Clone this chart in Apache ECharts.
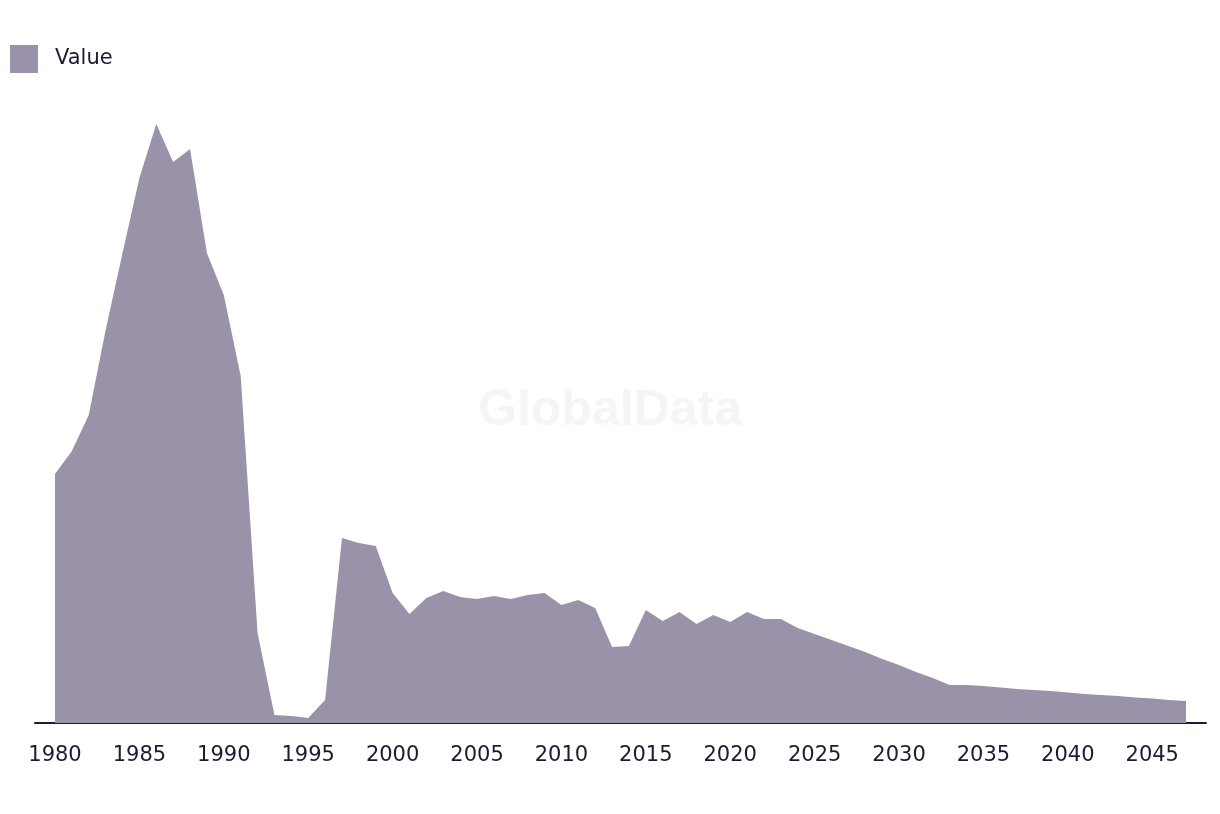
<!DOCTYPE html>
<html>
<head>
<meta charset="utf-8">
<script src="https://cdn.jsdelivr.net/npm/echarts@6/dist/echarts.min.js"></script>
<style>
html,body{margin:0;padding:0;background:#fff;}
#chart{width:1220px;height:814px;}
</style>
</head>
<body>
<div id="chart"></div>
<script>
const years = [];
for (let y = 1980; y <= 2047; y++) years.push(y);

const values = [
  249, 272, 308, 393, 470, 545, 599, 561, 574, 470,
  428, 347, 90, 8, 7, 5, 23, 185, 180, 177,
  130, 109, 125, 132, 126, 124, 127, 124, 128, 130,
  118, 123, 115, 76, 77, 113, 102, 111, 99, 108,
  101, 111, 104, 104, 95, 89, 83, 77, 71, 64,
  58, 51, 45, 38, 38, 37, 35.5, 34, 33, 32,
  30.5, 29, 28, 27, 25.5, 24.5, 23, 22
];

const tickLabels = [1980, 1985, 1990, 1995, 2000, 2005, 2010, 2015, 2020, 2025, 2030, 2035, 2040, 2045];
const seriesName = 'Value';

const pad = 20 / 16.88;
const chart = echarts.init(document.getElementById('chart'));
chart.setOption({
  animation: false,
  backgroundColor: '#ffffff',
  legend: {
    left: 5, top: 40,
    icon: 'rect', itemWidth: 28, itemHeight: 28,
    textStyle: { fontSize: 21, color: '#1c1b33', fontFamily: 'DejaVu Sans', padding: [0, 0, 0, 12] },
    data: [seriesName]
  },
  graphic: [{
    type: 'text', left: 'center', top: 386, z: -1,
    style: { text: 'GlobalData', font: 'bold 50px "Liberation Sans"', fill: '#f5f5f5' }
  }],
  grid: { left: 35, right: 14, top: 123, bottom: 91 },
  xAxis: {
    type: 'value',
    min: years[0] - pad,
    max: years[years.length - 1] + pad,
    splitLine: { show: false },
    axisTick: { show: false },
    axisLine: { show: true, lineStyle: { color: '#1c1b33', width: 2 } },
    axisLabel: {
      customValues: tickLabels,
      formatter: v => String(v),
      fontSize: 21, color: '#1c1b33', fontFamily: 'DejaVu Sans', margin: 22
    }
  },
  yAxis: {
    type: 'value', min: 0, max: 600, show: false,
    splitLine: { show: false }
  },
  series: [{
    name: seriesName,
    type: 'line',
    data: years.map((y, i) => [y, values[i]]),
    symbol: 'none',
    lineStyle: { width: 0, color: '#9a92a9' },
    itemStyle: { color: '#9a92a9' },
    areaStyle: { color: '#9a92a9', opacity: 1 },
    z: 2
  }]
});
</script>
</body>
</html>
